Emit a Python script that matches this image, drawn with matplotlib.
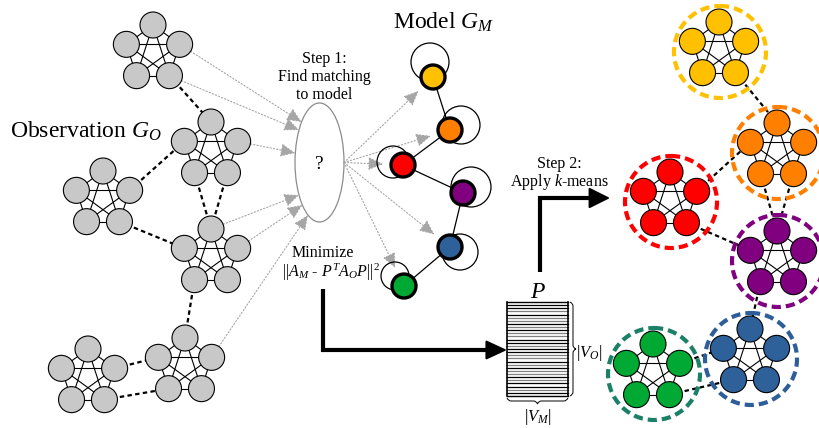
import numpy as np
import matplotlib.pyplot as plt
from matplotlib.patches import Circle, Ellipse, FancyArrowPatch, PathPatch
from matplotlib.path import Path

plt.rcParams['font.family'] = 'Liberation Serif'
plt.rcParams['mathtext.fontset'] = 'custom'
plt.rcParams['mathtext.rm'] = 'Liberation Serif'
plt.rcParams['mathtext.it'] = 'Liberation Serif:italic'

# ---- data ----
# observation clusters (pentagon centres, pixel coords)
obs_x = [153, 211, 103, 211, 185, 88]
obs_y = [53, 150, 199, 257, 366, 377]

# clustered result (same topology, coloured)
res_x = [719, 777, 670, 777, 750, 653]
res_y = [50, 151, 200, 259, 357, 372]
node_colors = ['#FFC000', '#FF8000', '#FF0000', '#800080', '#2E6199', '#00A933']
ring_colors = ['#FFC000', '#FF8000', '#FF0000', '#800080', '#2E5E99', '#1A8066']

# links between clusters: (cluster a, node a, cluster b, node b)
# node order: 0 top, 1 left, 2 bottom-left, 3 bottom-right, 4 right
links = [(0, 3, 1, 0), (2, 4, 1, 1), (1, 2, 3, 0), (1, 3, 3, 0),
         (2, 3, 3, 1), (3, 2, 4, 0), (5, 4, 4, 1), (5, 3, 4, 2)]

# model graph
model_x = [433, 450, 403, 463, 450, 404]
model_y = [77, 130, 165, 193, 247, 286]
loop_dx = [-3, 11, -10, 8, 10, -9]
loop_dy = [-15, -5, -3, -6, 5, -10]
loop_r = [19, 19, 16, 20, 18, 14]
model_edges = [(0, 1), (1, 2), (2, 3), (3, 4), (4, 5)]

# matching arrows: observation (cluster, node) -> y on ellipse
match_src = [(0, 4), (0, 3), (1, 4), (3, 0), (3, 4), (4, 4)]
match_y = [122, 130, 153, 195, 205, 215]
# ellipse -> model node
match_dst = [0, 1, 2, 4, 5]

# assignment matrix stripes (1 = black, 0 = grey)
stripes = [1, 1, 0, 1, 0, 0, 1, 0, 1, 0, 0, 1, 1, 0, 1,
           1, 0, 0, 1, 0, 1, 0, 0, 1, 0, 1, 1, 0, 1]

R = 28
ang = np.deg2rad([90, 162, 234, 306, 18])


def pent(cx, cy):
    return cx + R * np.cos(ang), cy - R * np.sin(ang)


fig = plt.figure(figsize=(8.19, 4.28), dpi=100)
ax = fig.add_axes([0, 0, 1, 1])
ax.set_xlim(0, 819)
ax.set_ylim(428, 0)
ax.axis('off')


def draw_clusters(cxs, cys, fcs, r=13):
    pos = []
    for k, (cx, cy) in enumerate(zip(cxs, cys)):
        px, py = pent(cx, cy)
        pos.append((px, py))
        for i in range(5):
            for j in range(i + 1, 5):
                ax.plot([px[i], px[j]], [py[i], py[j]], color='k', lw=0.8, zorder=1)
        for i in range(5):
            ax.add_patch(Circle((px[i], py[i]), r, fc=fcs[k], ec='k', lw=0.8, zorder=3))
    for a, na, b, nb in links:
        ax.plot([pos[a][0][na], pos[b][0][nb]], [pos[a][1][na], pos[b][1][nb]],
                color='k', lw=1.6, ls=(0, (2, 1.5)), zorder=2)
    return pos


obs_pos = draw_clusters(obs_x, obs_y, ['#C8C8C8'] * 6)
draw_clusters(res_x, res_y, node_colors)
for cx, cy, c in zip(res_x, res_y, ring_colors):
    ax.add_patch(Circle((cx + 1, cy + 2), 46, fc='none', ec=c, lw=3,
                        ls=(0, (2.2, 1.2)), zorder=4))

ax.text(10, 138, r'Observation $G_O$', fontsize=17, va='baseline')

# ellipse with "?"
ecx, ecy, ea, eb = 319.5, 162.5, 24.5, 59.5
ax.add_patch(Ellipse((ecx, ecy), 2 * ea, 2 * eb, fc='white', ec='#8c8c8c', lw=0.9, zorder=2))
ax.text(ecx, ecy + 2, '?', fontsize=14, ha='center', va='center')

grey = '#A6A6A6'
for (c, n), ty in zip(match_src, match_y):
    sx, sy = obs_pos[c][0][n], obs_pos[c][1][n]
    tx = ecx - ea * np.sqrt(1 - ((ty - ecy) / eb) ** 2)
    v = np.array([tx - sx, ty - sy])
    v /= np.hypot(*v)
    ax.add_patch(FancyArrowPatch((sx + 13 * v[0], sy + 13 * v[1]), (tx, ty),
                                 arrowstyle='-|>,head_length=0.9,head_width=0.4',
                                 mutation_scale=10, color=grey, lw=0.8,
                                 ls=(0, (1.2, 1.8)), shrinkA=0, shrinkB=0, zorder=2))
for m in match_dst:
    sx, sy = ecx + ea, ecy
    v = np.array([model_x[m] - sx, model_y[m] - sy])
    v /= np.hypot(*v)
    ax.add_patch(FancyArrowPatch((sx, sy), (model_x[m] - 20 * v[0], model_y[m] - 20 * v[1]),
                                 arrowstyle='-|>,head_length=0.9,head_width=0.4',
                                 mutation_scale=10, color=grey, lw=0.8,
                                 ls=(0, (1.2, 1.8)), shrinkA=0, shrinkB=0, zorder=2))

ax.text(324, 63, 'Step 1:', fontsize=11.5, ha='center', va='baseline')
ax.text(324, 81, 'Find matching', fontsize=11.5, ha='center', va='baseline')
ax.text(324, 99, 'to model', fontsize=11.5, ha='center', va='baseline')

# model graph
for a, b in model_edges:
    ax.plot([model_x[a], model_x[b]], [model_y[a], model_y[b]], color='k', lw=0.9, zorder=2)
for i in range(6):
    ax.add_patch(Circle((model_x[i] + loop_dx[i], model_y[i] + loop_dy[i]), loop_r[i],
                        fc='none', ec='k', lw=0.9, zorder=2))
    ax.add_patch(Circle((model_x[i], model_y[i]), 12, fc=node_colors[i], ec='k',
                        lw=2.4, zorder=3))
ax.text(393, 29, r'Model $G_M$', fontsize=17, va='baseline')

ax.text(323, 257, 'Minimize', fontsize=11.5, ha='center', va='baseline')
ax.text(331, 277, r'$||A_M$ - $P^TA_OP||^{2}$', fontsize=11.5, ha='center', va='baseline')

# thick arrows
ax.plot([323, 323, 490], [289, 350, 350], color='k', lw=3, solid_joinstyle='miter',
        solid_capstyle='butt', zorder=2)
ax.add_patch(FancyArrowPatch((480, 350), (507, 350), arrowstyle='-|>,head_length=1.3,head_width=0.6',
                             mutation_scale=10, color='k', lw=1.5, shrinkA=0, shrinkB=0))
ax.plot([540, 540, 593], [272, 198, 198], color='k', lw=3, solid_joinstyle='miter',
        solid_capstyle='butt', zorder=2)
ax.add_patch(FancyArrowPatch((585, 198), (610, 198), arrowstyle='-|>,head_length=1.3,head_width=0.65',
                             mutation_scale=10, color='k', lw=1.5, shrinkA=0, shrinkB=0))

ax.text(559, 168, 'Step 2:', fontsize=11.5, ha='center', va='baseline')
ax.text(559, 186, r'Apply $k$-means', fontsize=11.5, ha='center', va='baseline')

# matrix P
mx0, mx1, my0, my1 = 507, 568, 302, 396
ys = np.linspace(my0, my1, len(stripes) + 2)
ax.plot([mx0, mx1], [my0, my0], color='k', lw=1)
ax.plot([mx0, mx1], [my1, my1], color='k', lw=1)
for yv, s in zip(ys[1:-1], stripes):
    ax.plot([mx0, mx1], [yv, yv], color='k' if s else '#808080', lw=0.9)
ax.plot([mx0, mx0], [my0, my1], color='k', lw=1.2)
ax.plot([mx1, mx1], [my0, my1], color='k', lw=1.2)
ax.text(538, 298, '$P$', fontsize=17, ha='center', va='baseline')


def brace(p0, p1, depth):
    p0, p1 = np.array(p0, float), np.array(p1, float)
    t = (p1 - p0) / np.hypot(*(p1 - p0))
    nrm = np.array([-t[1], t[0]]) * depth
    mid = (p0 + p1) / 2
    q1 = p0 + nrm * 0.5
    q2 = mid + nrm * 0.5
    verts = [p0, p0 + nrm * 0.5 + t * 1.5, q1 + t * 4, q2 - t * 4, q2 - t * 1, mid + nrm,
             mid + nrm, q2 + t * 1, q2 + t * 4, p1 + nrm * 0.5 - t * 4,
             p1 + nrm * 0.5 - t * 1.5, p1]
    codes = [Path.MOVETO, Path.CURVE3, Path.CURVE3, Path.LINETO, Path.CURVE3, Path.CURVE3,
             Path.MOVETO, Path.CURVE3, Path.CURVE3, Path.LINETO, Path.CURVE3, Path.CURVE3]
    ax.add_patch(PathPatch(Path(verts, codes), fc='none', ec='k', lw=0.7))


brace((mx1 + 2, my0), (mx1 + 2, my1), -6)
brace((mx0, my1 + 2), (mx1, my1 + 2), 6)
ax.text(576, 357, r'$|V_O|$', fontsize=12, va='baseline')
ax.text(538, 421, r'$|V_M|$', fontsize=12, ha='center', va='baseline')

fig.savefig('out.png', dpi=100)
